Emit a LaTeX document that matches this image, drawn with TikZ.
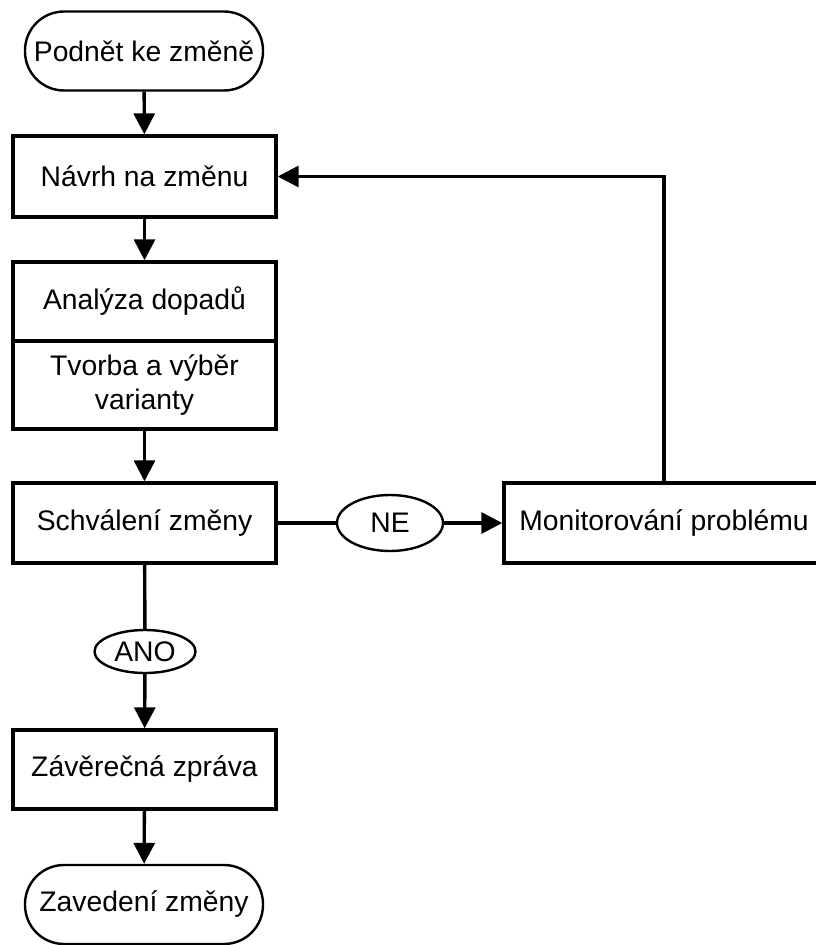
\documentclass[tikz,border=0pt]{standalone}
\usepackage{fontspec}
\setmainfont{Liberation Sans}
\usetikzlibrary{arrows.meta, shapes.geometric}

\begin{document}
\begin{tikzpicture}[
  x=1pt, y=-1pt,
  every node/.style={font=\fontsize{28.3}{34}\selectfont, text=black, inner sep=0pt, align=center},
  box/.style={draw, line width=3.4pt, rectangle, minimum width=263pt},
  term/.style={draw, line width=2.4pt, rectangle, rounded corners=39pt, minimum width=238pt, minimum height=79pt},
  answer/.style={draw, line width=2.4pt, ellipse},
  link/.style={draw, line width=3.4pt},
  arr/.style={link, -{Triangle[length=21pt, width=21pt]}}
]
\useasboundingbox (0,0) rectangle (815,945);

% main column
\node[term] (start) at (144,51) {Podnět ke změně};
\node[box, minimum height=81pt] (navrh) at (144.5,176.5) {Návrh na změnu};
\node[box, minimum height=79pt] (analyza) at (144.5,301.5) {Analýza dopadů};
\node[box, minimum height=88pt] (tvorba) at (144.5,385) {Tvorba a výběr\\varianty};
\node[box, minimum height=80pt] (schval) at (144.5,523) {Schválení změny};
\node[answer, minimum width=101pt, minimum height=43pt] (ano) at (145,651.5) {ANO};
\node[box, minimum height=79pt] (zaver) at (144.5,769.5) {Závěrečná zpráva};
\node[term] (konec) at (144,904.5) {Zavedení změny};

% rejection branch
\node[answer, minimum width=106pt, minimum height=56pt] (ne) at (390,523) {NE};
\node[box, minimum width=320pt, minimum height=80pt] (monitor) at (664,523) {Monitorování problému};

% connectors
\draw[arr] (start) -- (navrh);
\draw[arr] (navrh) -- (analyza);
\draw[arr] (tvorba) -- (schval);
\draw[link] (schval) -- (ano);
\draw[arr] (ano) -- (zaver);
\draw[arr] (zaver) -- (konec);
\draw[link] (schval) -- (ne);
\draw[arr] (ne) -- (monitor);
\draw[arr] (monitor.north) |- (navrh.east);
\end{tikzpicture}
\end{document}
